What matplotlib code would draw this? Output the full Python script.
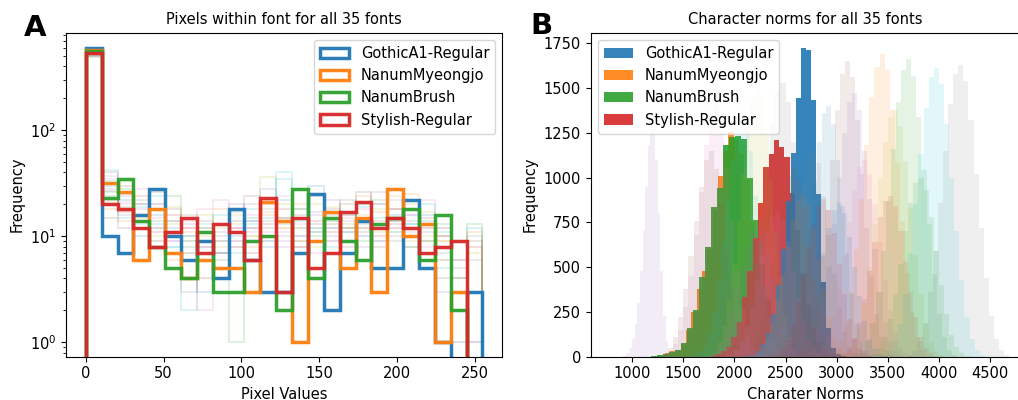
import numpy as np
import matplotlib
matplotlib.use("Agg")
import matplotlib.pyplot as plt

# ---------------- data ----------------
font_names = ["GothicA1-Regular", "NanumMyeongjo", "NanumBrush", "Stylish-Regular"]
highlight_colors = ["#1f77b4", "#ff7f0e", "#2ca02c", "#d62728"]

# Panel A: pixel value histograms (25 bins over 0..255)
pixel_range = [0, 255]
n_pixel_bins = 25
pix_gothic = [600, 10, 7, 16, 28, 10, 6, 9, 4, 18, 6, 3, 3, 7, 25, 2, 7, 14, 5, 5, 22, 5, 1, 0, 3]
pix_myeongjo = [573, 32, 26, 6, 18, 7, 4, 6, 5, 5, 3, 21, 14, 1, 9, 17, 5, 15, 3, 28, 10, 13, 1, 3, 0]
pix_brush = [555, 23, 35, 14, 8, 5, 4, 11, 3, 3, 9, 10, 2, 28, 4, 15, 9, 6, 13, 15, 18, 6, 16, 2, 0]
pix_stylish = [532, 20, 18, 12, 8, 11, 15, 7, 13, 11, 6, 23, 3, 15, 5, 7, 17, 21, 12, 15, 12, 7, 8, 9, 0]

faint_pix_1 = [560, 28, 24, 18, 12, 9, 7, 6, 10, 12, 14, 9, 8, 12, 16, 10, 12, 8, 20, 14, 10, 12, 6, 3, 1]
faint_pix_2 = [520, 40, 30, 20, 26, 18, 10, 8, 5, 14, 12, 20, 15, 9, 13, 18, 8, 26, 14, 18, 12, 9, 4, 2, 0]
faint_pix_3 = [545, 35, 20, 28, 15, 9, 12, 18, 22, 8, 16, 11, 24, 10, 7, 12, 15, 10, 9, 22, 16, 8, 12, 6, 0]
faint_pix_4 = [500, 24, 16, 12, 20, 14, 16, 12, 7, 9, 20, 14, 10, 18, 11, 9, 22, 14, 12, 10, 8, 14, 7, 4, 10]
faint_pix_5 = [580, 20, 26, 16, 9, 13, 7, 10, 12, 16, 10, 36, 12, 9, 20, 14, 7, 12, 18, 11, 20, 10, 9, 2, 0]
faint_pix_6 = [535, 42, 18, 13, 24, 8, 2, 6, 9, 11, 18, 15, 40, 14, 12, 8, 16, 10, 12, 28, 10, 7, 5, 1, 12]
faint_pix_7 = [510, 30, 22, 10, 16, 12, 9, 3, 7, 10, 14, 8, 22, 10, 30, 12, 11, 20, 9, 16, 13, 16, 8, 0, 0]
faint_pix_8 = [555, 18, 14, 12, 8, 6, 11, 9, 18, 5, 8, 16, 12, 20, 9, 15, 12, 24, 17, 12, 25, 12, 9, 4, 11]
faint_pix_9 = [490, 26, 28, 16, 14, 24, 8, 12, 6, 1, 15, 10, 13, 18, 10, 7, 12, 9, 22, 14, 8, 9, 13, 3, 13]
faint_pix_10 = [530, 22, 17, 24, 11, 16, 12, 4, 9, 12, 7, 13, 18, 8, 14, 11, 16, 12, 10, 18, 22, 6, 10, 2, 8]
faint_pix_11 = [570, 32, 25, 20, 9, 7, 13, 8, 11, 20, 12, 28, 9, 7, 17, 22, 9, 15, 26, 12, 16, 11, 3, 0, 1]
faint_pix_12 = [505, 15, 12, 14, 18, 11, 6, 14, 7, 8, 24, 12, 15, 16, 9, 13, 20, 11, 8, 13, 18, 15, 10, 6, 9]
faint_pix_13 = [525, 37, 21, 14, 20, 10, 14, 2, 13, 9, 11, 22, 11, 13, 24, 9, 14, 18, 12, 15, 11, 22, 8, 1, 0]
faint_pix_14 = [548, 27, 19, 22, 12, 14, 3, 11, 5, 17, 9, 18, 14, 8, 12, 16, 11, 13, 20, 9, 14, 13, 12, 5, 6]
faint_pix_15 = [515, 21, 33, 15, 10, 19, 9, 16, 8, 13, 10, 17, 20, 12, 8, 19, 13, 16, 11, 24, 9, 17, 6, 2, 7]
faint_pix_16 = [540, 33, 15, 19, 13, 8, 10, 13, 16, 7, 13, 9, 35, 15, 11, 14, 9, 19, 15, 11, 13, 20, 11, 4, 3]

# Panel B: character norm histograms (bin start, bin width, counts)
norm_gothic_start, norm_gothic_width = 2108, 49
norm_gothic = [5, 12, 30, 70, 130, 240, 400, 600, 870, 1136, 1443, 1722, 1712, 1433, 908, 419, 158, 47, 15, 4]
norm_myeongjo_start, norm_myeongjo_width = 1213, 52
norm_myeongjo = [6, 12, 20, 30, 40, 70, 150, 250, 380, 480, 600, 820, 1010, 1150, 1256, 1210, 1130, 990,
                 760, 520, 330, 180, 80, 25]
norm_brush_start, norm_brush_width = 1186, 58.7
norm_brush = [4, 9, 15, 25, 37, 78, 158, 260, 443, 610, 834, 940, 1180, 1228, 1232, 1214, 996, 763, 520,
              320, 170, 80, 30, 10]
norm_stylish_start, norm_stylish_width = 1761, 52
norm_stylish = [6, 15, 30, 56, 112, 195, 335, 480, 661, 857, 1061, 1132, 1210, 1169, 1113, 915, 707, 470,
                290, 160, 80, 35, 12, 4]

faint_norm_starts = [900, 1300, 1250, 1600, 1750, 1950, 2450, 2600, 2650, 2750, 2920, 3050, 3180, 3000,
                     3450, 3690, 3300, 2500, 1900, 2050, 2150, 2250, 1700, 2350]
faint_norm_widths = [25, 50, 50, 45, 45, 50, 45, 48, 50, 50, 50, 50, 50, 50, 50, 50, 50, 50,
                     50, 50, 50, 50, 50, 50]
faint_norm_1 = [3, 8, 20, 50, 100, 180, 300, 480, 700, 950, 1180, 1300, 1290, 1100, 800, 480, 230, 90, 30, 8]
faint_norm_2 = [10, 30, 70, 150, 280, 450, 680, 920, 1180, 1380, 1420, 1300, 1050, 760, 480, 260, 120, 50, 18, 6]
faint_norm_3 = [5, 20, 50, 110, 220, 380, 560, 760, 950, 1100, 1150, 1050, 850, 600, 380, 200, 90, 35, 10]
faint_norm_4 = [8, 25, 60, 130, 250, 420, 640, 880, 1100, 1280, 1380, 1330, 1150, 900, 640, 400, 220, 100, 40, 12]
faint_norm_5 = [10, 30, 80, 170, 320, 520, 760, 1020, 1260, 1440, 1520, 1450, 1250, 980, 700, 440, 240, 110, 40, 12]
faint_norm_6 = [10, 30, 80, 170, 320, 530, 780, 1050, 1300, 1480, 1530, 1420, 1200, 920, 640, 390, 200, 90, 35, 10]
faint_norm_7 = [8, 25, 70, 150, 290, 480, 720, 980, 1200, 1360, 1400, 1300, 1100, 840, 580, 350, 180, 80, 30, 8]
faint_norm_8 = [10, 30, 80, 180, 340, 560, 820, 1100, 1380, 1580, 1650, 1560, 1320, 1020, 720, 450, 240, 110, 40, 12]
faint_norm_9 = [8, 25, 70, 160, 300, 500, 740, 1000, 1250, 1420, 1475, 1380, 1150, 880, 600, 360, 190, 80, 30, 8]
faint_norm_10 = [5, 20, 55, 120, 230, 380, 560, 750, 930, 1060, 1100, 1020, 850, 640, 430, 260, 130, 55, 20, 6]
faint_norm_11 = [10, 30, 90, 190, 360, 600, 880, 1180, 1450, 1620, 1690, 1600, 1380, 1080, 760, 470, 250, 110, 40, 10]
faint_norm_12 = [8, 25, 70, 160, 300, 500, 740, 990, 1200, 1340, 1380, 1290, 1090, 830, 570, 350, 180, 80, 30, 8]
faint_norm_13 = [10, 30, 85, 190, 360, 590, 870, 1160, 1420, 1600, 1660, 1570, 1340, 1040, 740, 460, 240, 110, 40, 10]
faint_norm_14 = [5, 15, 45, 100, 190, 320, 480, 640, 780, 870, 900, 840, 700, 530, 360, 220, 110, 50, 18, 5]
faint_norm_15 = [10, 30, 85, 185, 350, 580, 850, 1130, 1390, 1560, 1610, 1520, 1300, 1000, 700, 430, 220, 100, 35, 10]
faint_norm_16 = [10, 30, 85, 190, 360, 590, 860, 1150, 1410, 1580, 1630, 1540, 1320, 1020, 720, 440, 230, 100, 40, 10]
faint_norm_17 = [5, 15, 50, 110, 210, 350, 520, 700, 860, 970, 1000, 930, 780, 590, 400, 240, 120, 55, 20, 5]
faint_norm_18 = [5, 15, 40, 90, 170, 290, 430, 580, 720, 820, 860, 800, 670, 500, 340, 200, 100, 45, 15, 5]
faint_norm_19 = [5, 15, 40, 90, 170, 280, 420, 560, 690, 780, 810, 760, 640, 480, 330, 200, 100, 45, 15, 5]
faint_norm_20 = [6, 18, 50, 110, 210, 350, 520, 700, 880, 1010, 1050, 990, 830, 630, 430, 260, 130, 55, 20, 6]
faint_norm_21 = [5, 15, 45, 100, 190, 310, 460, 620, 770, 870, 900, 850, 710, 540, 370, 220, 110, 50, 18, 5]
faint_norm_22 = [6, 20, 55, 120, 230, 380, 570, 770, 960, 1100, 1150, 1080, 900, 680, 460, 280, 140, 60, 20, 6]
faint_norm_23 = [4, 12, 35, 80, 150, 250, 370, 500, 620, 700, 730, 690, 580, 440, 300, 180, 90, 40, 14, 4]
faint_norm_24 = [5, 15, 42, 95, 180, 300, 450, 600, 740, 840, 880, 820, 690, 520, 350, 210, 105, 45, 16, 5]

# ---------------- styling ----------------
plt.rcParams["font.family"] = ["DejaVu Sans"]
plt.rcParams["font.size"] = 10.5
tab10 = ["#1f77b4", "#ff7f0e", "#2ca02c", "#d62728", "#9467bd",
         "#8c564b", "#e377c2", "#7f7f7f", "#bcbd22", "#17becf"]

fig = plt.figure(figsize=(10.18, 4.0), dpi=100)
W, H = 1018.0, 400.0
axA = fig.add_axes([66 / W, 1 - 356.7 / H, (502.3 - 66) / W, (356.7 - 32.7) / H])
axB = fig.add_axes([590.7 / W, 1 - 356.7 / H, (1020 - 590.7) / W, (356.7 - 32.7) / H])

# ---------------- Panel A ----------------
pix_edges = np.linspace(pixel_range[0], pixel_range[1], n_pixel_bins + 1)
pix_centers = 0.5 * (pix_edges[:-1] + pix_edges[1:])
faint_pix = [faint_pix_1, faint_pix_2, faint_pix_3, faint_pix_4, faint_pix_5, faint_pix_6, faint_pix_7,
             faint_pix_8, faint_pix_9, faint_pix_10, faint_pix_11, faint_pix_12, faint_pix_13, faint_pix_14,
             faint_pix_15, faint_pix_16]
for i, counts in enumerate(faint_pix):
    axA.hist(pix_centers, bins=pix_edges, weights=counts, histtype="step", log=True,
             color=tab10[(i + 4) % 10], alpha=0.2, lw=1.1)

pix_high = [pix_gothic, pix_myeongjo, pix_brush, pix_stylish]
handlesA = []
for counts, name, c in zip(pix_high, font_names, highlight_colors):
    _, _, p = axA.hist(pix_centers, bins=pix_edges, weights=counts, histtype="step", log=True,
                       color=c, lw=2.5, alpha=0.95, label=name)
    handlesA.append(p[0])

axA.set_yscale("log", nonpositive="clip")
axA.set_xlim(-12.75, 267.75)
axA.set_ylim(0.731, 833)
axA.set_title("Pixels within font for all 35 fonts", fontsize=10.5)
axA.set_xlabel("Pixel Values")
axA.set_ylabel("Frequency")
axA.legend(handles=handlesA, loc="upper right")

# ---------------- Panel B ----------------
def edges_for(start, width, counts):
    return start + width * np.arange(len(counts) + 1)

high_norm = [
    (norm_myeongjo_start, norm_myeongjo_width, norm_myeongjo, 1),
    (norm_brush_start, norm_brush_width, norm_brush, 2),
    (norm_stylish_start, norm_stylish_width, norm_stylish, 3),
    (norm_gothic_start, norm_gothic_width, norm_gothic, 0),
]
handlesB = {}
for start, width, counts, idx in high_norm:
    e = edges_for(start, width, counts)
    _, _, p = axB.hist(0.5 * (e[:-1] + e[1:]), bins=e, weights=counts,
                       color=highlight_colors[idx], alpha=0.9, label=font_names[idx])
    handlesB[idx] = p[0]

faint_norm = [faint_norm_1, faint_norm_2, faint_norm_3, faint_norm_4, faint_norm_5, faint_norm_6,
              faint_norm_7, faint_norm_8, faint_norm_9, faint_norm_10, faint_norm_11, faint_norm_12,
              faint_norm_13, faint_norm_14, faint_norm_15, faint_norm_16, faint_norm_17, faint_norm_18,
              faint_norm_19, faint_norm_20, faint_norm_21, faint_norm_22, faint_norm_23, faint_norm_24]
faint_norm_colors = [4, 6, 5, 9, 8, 7, 0, 5, 4, 6, 1, 8, 2, 3, 9, 7, 2, 0,
                     6, 5, 1, 7, 4, 3]
for counts, start, width, ci in zip(faint_norm, faint_norm_starts, faint_norm_widths, faint_norm_colors):
    e = edges_for(start, width, counts)
    axB.hist(0.5 * (e[:-1] + e[1:]), bins=e, weights=counts, color=tab10[ci], alpha=0.12)

axB.set_xlim(593, 4794)
axB.set_ylim(0, 1809)
axB.set_xticks([1000, 1500, 2000, 2500, 3000, 3500, 4000, 4500])
axB.set_yticks([0, 250, 500, 750, 1000, 1250, 1500, 1750])
axB.set_title("Character norms for all 35 fonts", fontsize=10.5)
axB.set_xlabel("Charater Norms")
axB.set_ylabel("Frequency")
axB.legend(handles=[handlesB[0], handlesB[1], handlesB[2], handlesB[3]], loc="upper left")

fig.text(24 / W, 1 - 36 / H, "A", fontsize=21, fontweight="bold", va="baseline", ha="left")
fig.text(530 / W, 1 - 34.5 / H, "B", fontsize=21, fontweight="bold", va="baseline", ha="left")

fig.savefig("out.png", dpi=100)
